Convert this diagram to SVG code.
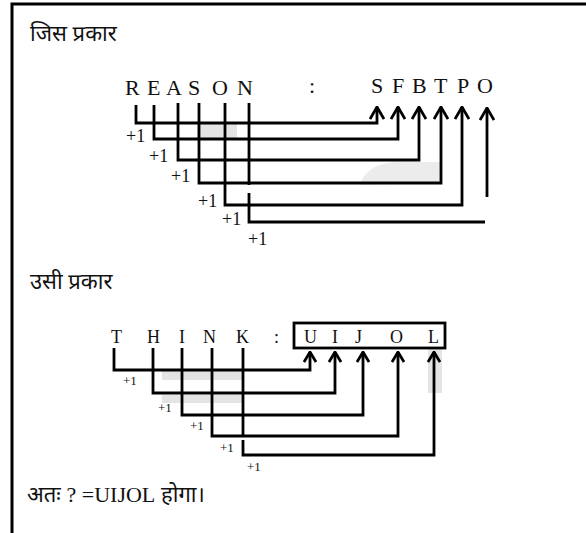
<svg xmlns="http://www.w3.org/2000/svg" width="586" height="533" viewBox="0 0 586 533">
<style>
.dv{font-family:"Noto Sans","Liberation Sans",sans-serif;font-size:22px;fill:#111}
.lt{font-family:"Liberation Serif","Times New Roman",serif;fill:#111}
.big{font-size:22px}
.mid{font-size:18px}
.p1a{font-size:18px}
.p1b{font-size:13px}
.ln{fill:none;stroke:#000;stroke-width:2.8;stroke-linejoin:miter}
.wm{fill:#e4e4e4}
</style>
<defs>
<marker id="chev" markerWidth="16" markerHeight="14" viewBox="-8 -1 16 14" refX="0" refY="0" orient="0" markerUnits="userSpaceOnUse">
<path d="M-7,12 L0,0 L7,12" fill="none" stroke="#000" stroke-width="2.8"/>
</marker>
<marker id="chev2" markerWidth="14" markerHeight="12" viewBox="-7 -1 14 12" refX="0" refY="0" orient="0" markerUnits="userSpaceOnUse">
<path d="M-6,10 L0,0 L6,10" fill="none" stroke="#000" stroke-width="2.8"/>
</marker>
</defs>
<rect width="586" height="533" fill="#fff"/>
<g id="frame">
<path d="M12,533 V4 H586" fill="none" stroke="#000" stroke-width="3"/>
</g>
<g id="watermark">
<rect class="wm" x="197" y="124" width="40" height="14"/>
<path class="wm" d="M360,185 Q365,165 395,162 L440,162 L440,183 Z" opacity="0.7"/>
<rect class="wm" x="162" y="371" width="80" height="9"/>
<rect class="wm" x="162" y="395" width="80" height="8"/>
<rect class="wm" x="428" y="349" width="14" height="44"/>
</g>
<g id="heading1"><text class="dv" x="30" y="41">जिस प्रकार</text></g>
<g id="word-reason" class="lt big" font-family="Liberation Serif, Times New Roman, serif">
<text x="125" y="95">R</text><text x="147" y="95">E</text><text x="166" y="95">A</text><text x="188" y="95">S</text><text x="212" y="95">O</text><text x="237" y="95">N</text>
</g>
<g id="colon1"><text class="lt big" x="309" y="93">:</text></g>
<g id="word-sfbtpo" class="lt big">
<text x="371" y="93">S</text><text x="392" y="93">F</text><text x="412" y="93">B</text><text x="434" y="93">T</text><text x="457" y="93">P</text><text x="477" y="93">O</text>
</g>
<g id="connectors1">
<path class="ln" d="M136,105 V123 H377 V107" marker-end="url(#chev)"/>
<path class="ln" d="M154,105 V139 H398 V107" marker-end="url(#chev)"/>
<path class="ln" d="M178,103 V160 H419 V107" marker-end="url(#chev)"/>
<path class="ln" d="M199,103 V183 H441 V107" marker-end="url(#chev)"/>
<path class="ln" d="M225,103 V205 H462 V107" marker-end="url(#chev)"/>
<path class="ln" d="M249,103 V185"/>
<path class="ln" d="M249,193 V222 H485"/>
<path class="ln" d="M487,197 V108" marker-end="url(#chev)"/>
</g>
<g id="plus1" class="lt p1a">
<text x="126" y="142">+1</text><text x="149" y="162">+1</text><text x="171" y="182">+1</text><text x="198" y="207">+1</text><text x="222" y="225">+1</text><text x="248" y="245">+1</text>
</g>
<g id="heading2"><text class="dv" x="30" y="289">उसी प्रकार</text></g>
<g id="word-think" class="lt mid">
<text x="111" y="343">T</text><text x="147" y="343">H</text><text x="179" y="343">I</text><text x="203" y="343">N</text><text x="236" y="343">K</text>
</g>
<g id="colon2"><text class="lt mid" x="274" y="343">:</text></g>
<g id="answer-box">
<rect x="294" y="323" width="151" height="25" fill="none" stroke="#000" stroke-width="2.8"/>
<g class="lt mid"><text x="304" y="343">U</text><text x="332" y="343">I</text><text x="355" y="343">J</text><text x="390" y="343">O</text><text x="428" y="343">L</text></g>
</g>
<g id="connectors2">
<path class="ln" d="M114,348 V370 H310 V352" marker-end="url(#chev2)"/>
<path class="ln" d="M153,348 V393 H335 V352" marker-end="url(#chev2)"/>
<path class="ln" d="M182,348 V415 H363 V352" marker-end="url(#chev2)"/>
<path class="ln" d="M212,348 V436 H398 V352" marker-end="url(#chev2)"/>
<path class="ln" d="M243,348 V436"/>
<path class="ln" d="M243,440 V455 H434 V352" marker-end="url(#chev2)"/>
</g>
<g id="plus2" class="lt p1b">
<text x="123" y="385">+1</text><text x="158" y="412">+1</text><text x="190" y="430">+1</text><text x="220" y="452">+1</text><text x="247" y="471">+1</text>
</g>
<g id="conclusion"><text class="dv" x="27" y="502">अतः <tspan class="lt" style="font-size:22px">? =UIJOL</tspan> होगा।</text></g>
</svg>
